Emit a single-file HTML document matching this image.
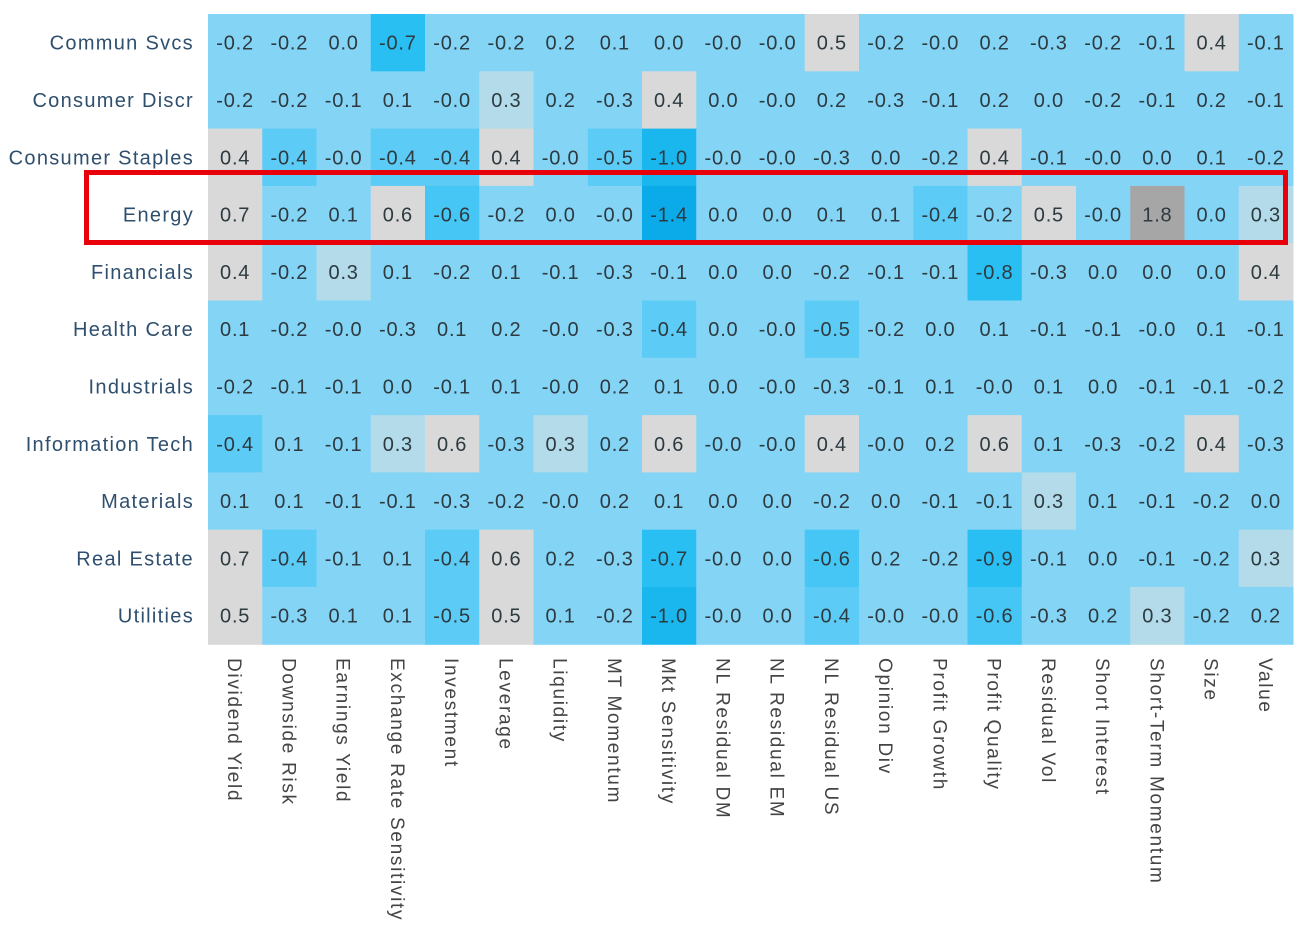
<!DOCTYPE html>
<html><head><meta charset="utf-8"><style>
html,body{margin:0;padding:0;background:#fff;}
svg{display:block;}
</style></head><body>
<svg id="s" width="1298" height="930" xmlns="http://www.w3.org/2000/svg" font-family="'Liberation Sans','DejaVu Sans',sans-serif"></svg>
<script>
const rows=["Commun Svcs","Consumer Discr","Consumer Staples","Energy","Financials","Health Care","Industrials","Information Tech","Materials","Real Estate","Utilities"];
const cols=["Dividend Yield","Downside Risk","Earnings Yield","Exchange Rate Sensitivity","Investment","Leverage","Liquidity","MT Momentum","Mkt Sensitivity","NL Residual DM","NL Residual EM","NL Residual US","Opinion Div","Profit Growth","Profit Quality","Residual Vol","Short Interest","Short-Term Momentum","Size","Value"];
const d=[
"-0.2 -0.2 0.0 -0.7 -0.2 -0.2 0.2 0.1 0.0 -0.0 -0.0 0.5 -0.2 -0.0 0.2 -0.3 -0.2 -0.1 0.4 -0.1",
"-0.2 -0.2 -0.1 0.1 -0.0 0.3 0.2 -0.3 0.4 0.0 -0.0 0.2 -0.3 -0.1 0.2 0.0 -0.2 -0.1 0.2 -0.1",
"0.4 -0.4 -0.0 -0.4 -0.4 0.4 -0.0 -0.5 -1.0 -0.0 -0.0 -0.3 0.0 -0.2 0.4 -0.1 -0.0 0.0 0.1 -0.2",
"0.7 -0.2 0.1 0.6 -0.6 -0.2 0.0 -0.0 -1.4 0.0 0.0 0.1 0.1 -0.4 -0.2 0.5 -0.0 1.8 0.0 0.3",
"0.4 -0.2 0.3 0.1 -0.2 0.1 -0.1 -0.3 -0.1 0.0 0.0 -0.2 -0.1 -0.1 -0.8 -0.3 0.0 0.0 0.0 0.4",
"0.1 -0.2 -0.0 -0.3 0.1 0.2 -0.0 -0.3 -0.4 0.0 -0.0 -0.5 -0.2 0.0 0.1 -0.1 -0.1 -0.0 0.1 -0.1",
"-0.2 -0.1 -0.1 0.0 -0.1 0.1 -0.0 0.2 0.1 0.0 -0.0 -0.3 -0.1 0.1 -0.0 0.1 0.0 -0.1 -0.1 -0.2",
"-0.4 0.1 -0.1 0.3 0.6 -0.3 0.3 0.2 0.6 -0.0 -0.0 0.4 -0.0 0.2 0.6 0.1 -0.3 -0.2 0.4 -0.3",
"0.1 0.1 -0.1 -0.1 -0.3 -0.2 -0.0 0.2 0.1 0.0 0.0 -0.2 0.0 -0.1 -0.1 0.3 0.1 -0.1 -0.2 0.0",
"0.7 -0.4 -0.1 0.1 -0.4 0.6 0.2 -0.3 -0.7 -0.0 0.0 -0.6 0.2 -0.2 -0.9 -0.1 0.0 -0.1 -0.2 0.3",
"0.5 -0.3 0.1 0.1 -0.5 0.5 0.1 -0.2 -1.0 -0.0 0.0 -0.4 -0.0 -0.0 -0.6 -0.3 0.2 0.3 -0.2 0.2"];
function col(v){
 if(v>1)return"#a6a6a6";
 if(v>=0.35)return"#d9d9d9";
 if(v>=0.25)return"#b3dbe9";
 if(v<=-1.2)return"#0aabe8";
 if(v<=-0.95)return"#1ab6ee";
 if(v<=-0.65)return"#2abff3";
 if(v<=-0.55)return"#45c6f4";
 if(v<=-0.35)return"#5ccbf5";
 return"#84d4f6";
}
const x0=208,w=54.25,y0=14,h=57.3;
let s="";
rows.forEach((r,i)=>{
 const vals=d[i].split(" ");
 const y=y0+i*h;
 s+=`<text x="194" y="${y+h/2+7}" text-anchor="end" font-size="20" letter-spacing="1.3" fill="#2f4f6f">${r}</text>`;
 vals.forEach((t,j)=>{
  const x=x0+j*w;
  s+=`<rect x="${x}" y="${y}" width="${w+0.5}" height="${h+0.5}" fill="${col(parseFloat(t))}"/>`;
 });
});
rows.forEach((r,i)=>{
 const vals=d[i].split(" ");
 const y=y0+i*h;
 vals.forEach((t,j)=>{
  const x=x0+j*w;
  s+=`<text x="${x+w/2}" y="${y+h/2+7}" text-anchor="middle" font-size="20" letter-spacing="0.8" fill="#2d3a40">${t}</text>`;
 });
});
cols.forEach((c,j)=>{
 const x=x0+j*w+w/2-7;
 s+=`<text transform="translate(${x},658) rotate(90)" font-size="19" letter-spacing="1.7" fill="#444">${c}</text>`;
});
s+=`<rect x="86.5" y="172.5" width="1199" height="70" fill="none" stroke="#e8000b" stroke-width="5"/>`;
document.getElementById("s").innerHTML=s;
</script>
</body></html>
